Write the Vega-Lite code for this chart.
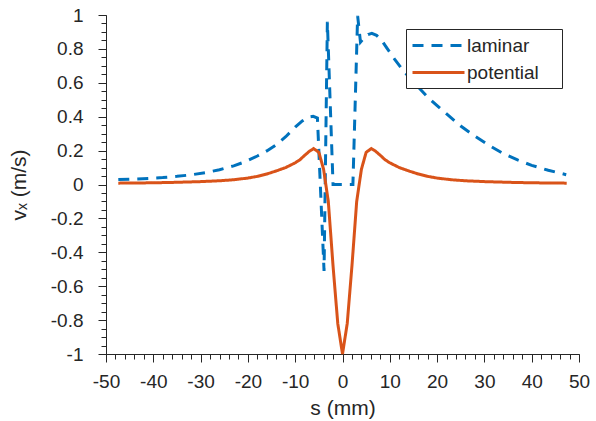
{
  "$schema": "https://vega.github.io/schema/vega-lite/v6.json",
  "width": 473,
  "height": 339,
  "autosize": "none",
  "padding": {"left": 106, "top": 15, "right": 17, "bottom": 67},
  "background": "white",
  "config": {
    "view": {"stroke": null},
    "font": "Liberation Sans",
    "axis": {
      "grid": false,
      "domainColor": "#262626",
      "tickColor": "#262626",
      "labelColor": "#262626",
      "titleColor": "#262626",
      "labelFont": "Liberation Sans",
      "titleFont": "Liberation Sans",
      "labelFontSize": 19,
      "titleFontSize": 21,
      "titleFontWeight": "normal",
      "labelFlush": false,
      "labelOverlap": false,
      "domainWidth": 1,
      "tickWidth": 1
    }
  },
  "data": {
    "values": [
      {"series": "laminar", "s": -47.4, "v": 0.029},
      {"series": "laminar", "s": -44, "v": 0.032},
      {"series": "laminar", "s": -41, "v": 0.036},
      {"series": "laminar", "s": -38, "v": 0.041},
      {"series": "laminar", "s": -35, "v": 0.048},
      {"series": "laminar", "s": -32, "v": 0.057},
      {"series": "laminar", "s": -29, "v": 0.07},
      {"series": "laminar", "s": -26, "v": 0.087},
      {"series": "laminar", "s": -23, "v": 0.11},
      {"series": "laminar", "s": -20.5, "v": 0.135},
      {"series": "laminar", "s": -18, "v": 0.168},
      {"series": "laminar", "s": -16, "v": 0.198},
      {"series": "laminar", "s": -14, "v": 0.235},
      {"series": "laminar", "s": -12, "v": 0.282},
      {"series": "laminar", "s": -10, "v": 0.338},
      {"series": "laminar", "s": -8.5, "v": 0.375},
      {"series": "laminar", "s": -7.2, "v": 0.398},
      {"series": "laminar", "s": -6.2, "v": 0.402},
      {"series": "laminar", "s": -5.3, "v": 0.392},
      {"series": "laminar", "s": -3.9, "v": -0.51},
      {"series": "laminar", "s": -3.2, "v": 0.96},
      {"series": "laminar", "s": -2.0, "v": 0},
      {"series": "laminar", "s": 2.2, "v": 0},
      {"series": "laminar", "s": 3.2, "v": 0.995},
      {"series": "laminar", "s": 3.8, "v": 0.84},
      {"series": "laminar", "s": 4.6, "v": 0.865},
      {"series": "laminar", "s": 5.4, "v": 0.885},
      {"series": "laminar", "s": 6.2, "v": 0.892},
      {"series": "laminar", "s": 7.2, "v": 0.88},
      {"series": "laminar", "s": 8.3, "v": 0.85},
      {"series": "laminar", "s": 9.5, "v": 0.8},
      {"series": "laminar", "s": 11, "v": 0.74},
      {"series": "laminar", "s": 12.5, "v": 0.685},
      {"series": "laminar", "s": 14, "v": 0.635},
      {"series": "laminar", "s": 16, "v": 0.575},
      {"series": "laminar", "s": 18, "v": 0.515},
      {"series": "laminar", "s": 20, "v": 0.465},
      {"series": "laminar", "s": 22.5, "v": 0.405},
      {"series": "laminar", "s": 25, "v": 0.345},
      {"series": "laminar", "s": 28, "v": 0.285},
      {"series": "laminar", "s": 31, "v": 0.23},
      {"series": "laminar", "s": 34, "v": 0.182},
      {"series": "laminar", "s": 37, "v": 0.145},
      {"series": "laminar", "s": 40, "v": 0.113},
      {"series": "laminar", "s": 43.5, "v": 0.084},
      {"series": "laminar", "s": 47.3, "v": 0.058},
      {"series": "potential", "s": -47.4, "v": 0.008},
      {"series": "potential", "s": -40, "v": 0.01},
      {"series": "potential", "s": -35, "v": 0.013},
      {"series": "potential", "s": -30, "v": 0.017},
      {"series": "potential", "s": -26, "v": 0.022},
      {"series": "potential", "s": -23, "v": 0.028},
      {"series": "potential", "s": -20, "v": 0.038},
      {"series": "potential", "s": -18, "v": 0.048},
      {"series": "potential", "s": -16, "v": 0.062},
      {"series": "potential", "s": -14, "v": 0.08},
      {"series": "potential", "s": -12, "v": 0.1},
      {"series": "potential", "s": -10, "v": 0.128},
      {"series": "potential", "s": -9, "v": 0.146},
      {"series": "potential", "s": -8, "v": 0.172},
      {"series": "potential", "s": -7, "v": 0.196},
      {"series": "potential", "s": -6.1, "v": 0.212},
      {"series": "potential", "s": -5, "v": 0.19},
      {"series": "potential", "s": -4, "v": 0.09},
      {"series": "potential", "s": -3, "v": -0.1},
      {"series": "potential", "s": -2, "v": -0.48},
      {"series": "potential", "s": -1, "v": -0.82},
      {"series": "potential", "s": 0, "v": -1},
      {"series": "potential", "s": 1, "v": -0.82},
      {"series": "potential", "s": 2, "v": -0.48},
      {"series": "potential", "s": 3, "v": -0.1},
      {"series": "potential", "s": 4, "v": 0.09},
      {"series": "potential", "s": 5, "v": 0.19},
      {"series": "potential", "s": 6.1, "v": 0.212},
      {"series": "potential", "s": 7, "v": 0.196},
      {"series": "potential", "s": 8, "v": 0.172},
      {"series": "potential", "s": 9, "v": 0.146},
      {"series": "potential", "s": 10, "v": 0.128},
      {"series": "potential", "s": 12, "v": 0.1},
      {"series": "potential", "s": 14, "v": 0.08},
      {"series": "potential", "s": 16, "v": 0.062},
      {"series": "potential", "s": 18, "v": 0.048},
      {"series": "potential", "s": 20, "v": 0.038},
      {"series": "potential", "s": 23, "v": 0.028},
      {"series": "potential", "s": 26, "v": 0.022},
      {"series": "potential", "s": 30, "v": 0.017},
      {"series": "potential", "s": 35, "v": 0.013},
      {"series": "potential", "s": 40, "v": 0.01},
      {"series": "potential", "s": 47.4, "v": 0.008}
    ]
  },
  "layer": [
    {
      "mark": {"type": "point", "opacity": 0},
      "encoding": {
        "x": {
          "field": "s", "type": "quantitative",
          "scale": {"domain": [-50, 50], "nice": false, "zero": false},
          "axis": {
            "orient": "bottom",
            "values": [-50,-48,-46,-44,-42,-40,-38,-36,-34,-32,-30,-28,-26,-24,-22,-20,-18,-16,-14,-12,-10,-8,-6,-4,-2,0,2,4,6,8,10,12,14,16,18,20,22,24,26,28,30,32,34,36,38,40,42,44,46,48,50],
            "tickSize": 5, "labels": false, "domain": false, "title": null
          }
        },
        "y": {
          "field": "v", "type": "quantitative",
          "scale": {"domain": [-1, 1], "nice": false, "zero": false},
          "axis": {
            "orient": "left",
            "values": [-1,-0.95,-0.9,-0.85,-0.8,-0.75,-0.7,-0.65,-0.6,-0.55,-0.5,-0.45,-0.4,-0.35,-0.3,-0.25,-0.2,-0.15,-0.1,-0.05,0,0.05,0.1,0.15,0.2,0.25,0.3,0.35,0.4,0.45,0.5,0.55,0.6,0.65,0.7,0.75,0.8,0.85,0.9,0.95,1],
            "tickSize": 5, "labels": false, "domain": false, "title": null
          }
        }
      }
    },
    {
      "mark": {"type": "line", "strokeWidth": 3, "strokeCap": "butt", "strokeJoin": "miter"},
      "encoding": {
        "x": {
          "field": "s", "type": "quantitative",
          "scale": {"domain": [-50, 50], "nice": false, "zero": false},
          "axis": {
            "orient": "bottom",
            "values": [-50,-40,-30,-20,-10,0,10,20,30,40,50],
            "tickSize": 8, "labelPadding": 10,
            "labelExpr": "datum.value < 0 ? '-' + format(-datum.value, '~g') : format(datum.value, '~g')",
            "title": "s (mm)", "titlePadding": 6
          }
        },
        "y": {
          "field": "v", "type": "quantitative",
          "scale": {"domain": [-1, 1], "nice": false, "zero": false},
          "axis": {
            "orient": "left",
            "values": [-1,-0.8,-0.6,-0.4,-0.2,0,0.2,0.4,0.6,0.8,1],
            "tickSize": 8, "labelPadding": 15,
            "labelExpr": "datum.value < 0 ? '-' + format(-datum.value, '~g') : format(datum.value, '~g')",
            "title": "vₓ (m/s)", "titlePadding": 21
          }
        },
        "color": {
          "field": "series", "type": "nominal",
          "scale": {"domain": ["laminar", "potential"], "range": ["#0072BD", "#D95319"]},
          "legend": {
            "orient": "none", "legendX": 300, "legendY": 14,
            "title": ".", "titleOrient": "right", "titleFontSize": 10, "titlePadding": 15, "titleOpacity": 0,
            "strokeColor": "#262626", "fillColor": "white", "padding": 5,
            "symbolType": "M-2.6,0H2.6", "symbolSize": 400, "symbolStrokeWidth": 3, "symbolOffset": 16,
            "labelFontSize": 19, "labelColor": "#262626", "labelFont": "Liberation Sans",
            "rowPadding": 5, "labelOffset": 17
          }
        },
        "strokeDash": {
          "field": "series", "type": "nominal",
          "scale": {"domain": ["laminar", "potential"], "range": [[11, 8], [1, 0]]},
          "legend": {
            "orient": "none", "legendX": 300, "legendY": 14,
            "title": ".", "titleOrient": "right", "titleFontSize": 10, "titlePadding": 15, "titleOpacity": 0,
            "strokeColor": "#262626", "fillColor": "white", "padding": 5,
            "symbolType": "M-2.6,0H2.6", "symbolSize": 400, "symbolStrokeWidth": 3, "symbolOffset": 16,
            "labelFontSize": 19, "labelColor": "#262626", "labelFont": "Liberation Sans",
            "rowPadding": 5, "labelOffset": 17
          }
        }
      }
    }
  ],
  "resolve": {"axis": {"x": "independent", "y": "independent"}}
}
